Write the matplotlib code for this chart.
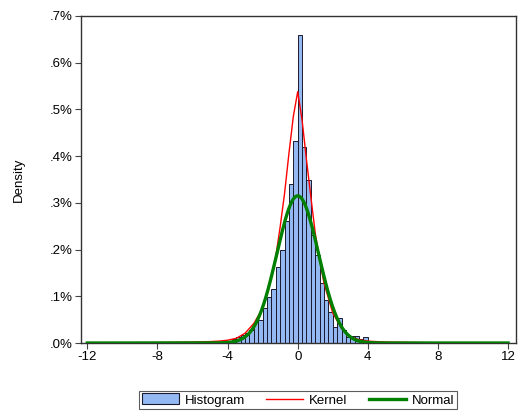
import numpy as np
import matplotlib
matplotlib.use("Agg")
import matplotlib.pyplot as plt
from matplotlib.ticker import FuncFormatter
from matplotlib.patches import Patch
from matplotlib.lines import Line2D

plt.rcParams['font.family'] = ['Liberation Sans', 'DejaVu Sans']

# Histogram: left bin edges (width 0.25) and heights in percent
bin_width = 0.25
bin_left = [-9.5, -7.25, -6.0, -5.5, -5.0, -4.75, -4.5, -4.25, -4.0, -3.75, -3.5, -3.25,
            -3.0, -2.75, -2.5, -2.25, -2.0, -1.75, -1.5, -1.25, -1.0, -0.75, -0.5, -0.25,
            0.0, 0.25, 0.5, 0.75, 1.0, 1.25, 1.5, 1.75, 2.0, 2.25, 2.5, 2.75,
            3.0, 3.25, 3.5, 3.75, 4.0, 4.25, 4.5, 5.0, 6.0]
bin_height = [0.001, 0.0015, 0.002, 0.002, 0.002, 0.003, 0.003, 0.003, 0.005, 0.008, 0.013, 0.017,
              0.022, 0.028, 0.046, 0.049, 0.074, 0.099, 0.116, 0.162, 0.200, 0.261, 0.340, 0.433,
              0.660, 0.419, 0.348, 0.231, 0.188, 0.128, 0.091, 0.066, 0.034, 0.053, 0.028, 0.012,
              0.015, 0.016, 0.008, 0.012, 0.004, 0.003, 0.002, 0.002, 0.003]

# Kernel density curve points (percent)
kernel_x = [-12, -10, -8, -7, -6, -5, -4.5, -4, -3.5, -3, -2.5, -2, -1.5, -1.25, -1.0, -0.75,
            -0.5, -0.25, 0, 0.25, 0.5, 0.75, 1.0, 1.25, 1.5, 2.0, 2.5, 3.0, 3.5, 4, 5, 6, 8, 10, 12]
kernel_y = [0.0, 0.0005, 0.001, 0.0015, 0.002, 0.003, 0.004, 0.006, 0.010, 0.021, 0.042, 0.074,
            0.139, 0.185, 0.249, 0.320, 0.406, 0.485, 0.538, 0.477, 0.392, 0.313, 0.235, 0.178,
            0.128, 0.064, 0.031, 0.0135, 0.007, 0.004, 0.002, 0.0015, 0.0005, 0.0002, 0.0]

# Fitted normal parameters (percent scale)
normal_mean = 0.0
normal_sd = 1.19
normal_peak = 0.315

x_ticks = [-12, -8, -4, 0, 4, 8, 12]
y_ticks = [0.0, 0.1, 0.2, 0.3, 0.4, 0.5, 0.6, 0.7]

fig = plt.figure(figsize=(5.19, 4.16), dpi=100)
ax = fig.add_axes([81/519, 1-343/416, (516-81)/519, (343-16)/416])

bar_color = '#94B8F2'
ax.bar(bin_left, bin_height, width=bin_width, align='edge', color=bar_color,
       edgecolor='#1a1a2e', linewidth=0.7, zorder=2)

ax.plot(kernel_x, kernel_y, color='#FF0000', linewidth=1.0, zorder=3)

nx = np.linspace(-12, 12, 600)
ny = normal_peak * np.exp(-0.5 * ((nx - normal_mean) / normal_sd) ** 2)
ax.plot(nx, ny, color='#008000', linewidth=2.4, zorder=4)

ax.set_xlim(-12.36, 12.45)
ax.set_ylim(0, 0.7)
ax.set_xticks(x_ticks)
ax.set_xticklabels([str(t) for t in x_ticks])
ax.set_yticks(y_ticks)
ax.yaxis.set_major_formatter(FuncFormatter(lambda v, p: ("%.1f%%" % v).lstrip('0')))
ax.tick_params(axis='both', direction='out', length=4, width=0.8, labelsize=9.5,
               color='#444444', pad=2)
for s in ax.spines.values():
    s.set_color('#333333')
    s.set_linewidth(1.0)
ax.set_ylabel('Density', fontsize=9.5, labelpad=18)

handles = [Patch(facecolor=bar_color, edgecolor='#1a1a2e', linewidth=0.8),
           Line2D([], [], color='#FF0000', linewidth=1.0),
           Line2D([], [], color='#008000', linewidth=2.4)]
leg = fig.legend(handles, ['Histogram', 'Kernel', 'Normal'], loc='center',
                 bbox_to_anchor=(298/519, 1-400/416), ncol=3, fontsize=9.5,
                 frameon=True, fancybox=False, edgecolor='#333333',
                 handlelength=2.8, handleheight=0.9, handletextpad=0.45,
                 columnspacing=1.6, borderpad=0.2, borderaxespad=0)
leg.get_frame().set_linewidth(0.8)

fig.savefig('out.png', dpi=100)
